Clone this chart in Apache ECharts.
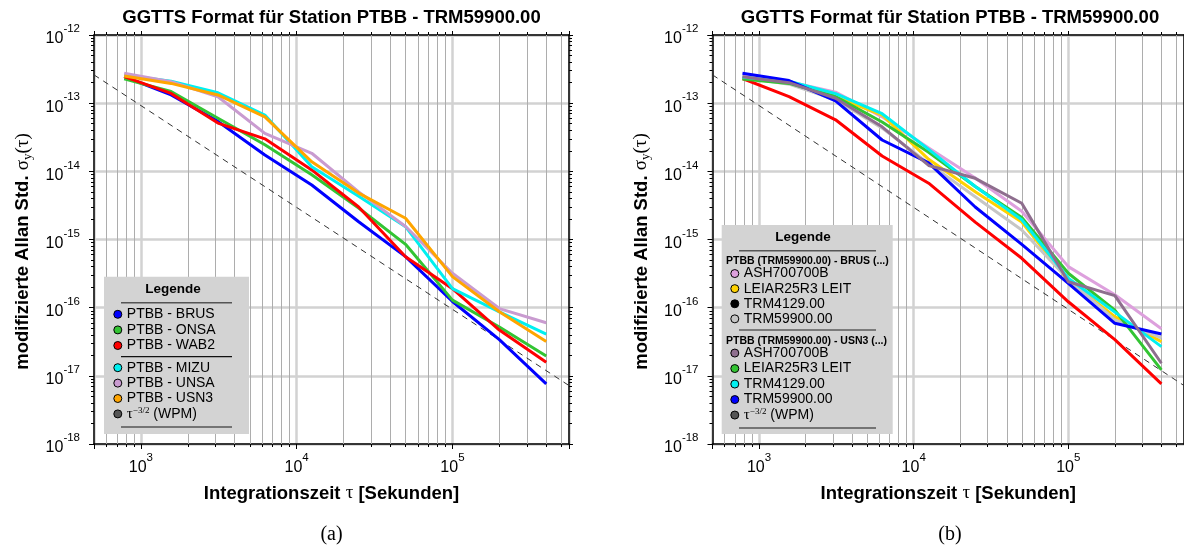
<!DOCTYPE html>
<html><head><meta charset="utf-8">
<script src="https://cdn.jsdelivr.net/npm/echarts@6/dist/echarts.min.js"></script>
<style>html,body{margin:0;padding:0;background:#fff}#c{width:1184px;height:550px}</style>
</head><body><div id="c"></div>
<script>
// ---------- data ----------
const tau = [781.25, 1562.5, 3125, 6250, 12500, 25000, 50000, 100000, 200000, 400000];

// panel (a)
const a_BRUS = [2.45e-13, 1.32e-13, 5.4e-14, 1.74e-14, 6.3e-15, 1.82e-15, 5.6e-16, 1.23e-16, 3.4e-17, 7.6e-18];
const a_ONSA = [2.27e-13, 1.48e-13, 6.0e-14, 2.45e-14, 8.9e-15, 2.9e-15, 8.5e-16, 1.29e-16, 5.2e-17, 1.95e-17];
const a_WAB2 = [2.45e-13, 1.39e-13, 5.1e-14, 3.0e-14, 1.05e-14, 3.0e-15, 5.6e-16, 1.9e-16, 4.7e-17, 1.58e-17];
const a_MIZU = [2.58e-13, 2.1e-13, 1.42e-13, 6.7e-14, 1.17e-14, 4.3e-15, 1.54e-15, 1.9e-16, 8.7e-17, 4.1e-17];
const a_UNSA = [2.75e-13, 2.07e-13, 1.24e-13, 3.6e-14, 1.84e-14, 5.0e-15, 1.55e-15, 3.2e-16, 9.7e-17, 6.0e-17];
const a_USN3 = [2.5e-13, 1.95e-13, 1.32e-13, 6.3e-14, 1.38e-14, 4.8e-15, 2.05e-15, 2.85e-16, 8.7e-17, 3.2e-17];

// panel (b)
const b_other = [2.3e-13, 1.25e-13, 5.7e-14, 1.68e-14, 6.7e-15, 1.8e-15, 5.3e-16, 1.22e-16, 3.4e-17, 7.6e-18];
const b_BRUS_ASH = [2.5e-13, 2.07e-13, 1.45e-13, 6.3e-14, 2.2e-14, 8.0e-15, 2.6e-15, 4.0e-16, 1.55e-16, 4.9e-17];
const b_BRUS_LEIAR = [2.3e-13, 2.07e-13, 1.24e-13, 6.7e-14, 1.5e-14, 5.0e-15, 1.8e-15, 2.5e-16, 7.4e-17, 3.17e-17];
const b_BRUS_TRM4129 = [];
const b_BRUS_TRM59900 = [2.4e-13, 1.9e-13, 1.12e-13, 4.3e-14, 1.3e-14, 4.25e-15, 1.38e-15, 2.6e-16, 6.6e-17, 3.6e-17];
const b_USN3_ASH = [2.45e-13, 2.0e-13, 1.18e-13, 4.5e-14, 1.22e-14, 7.9e-15, 3.4e-15, 2.4e-16, 1.5e-16, 1.53e-17];
const b_USN3_LEIAR = [2.27e-13, 1.95e-13, 1.25e-13, 5.3e-14, 1.9e-14, 6.0e-15, 2.1e-15, 3.2e-16, 9.2e-17, 1.22e-17];
const b_USN3_TRM4129 = [2.4e-13, 2.1e-13, 1.38e-13, 7.0e-14, 2.1e-14, 6.0e-15, 1.95e-15, 2.7e-16, 8.6e-17, 2.68e-17];
const b_USN3_TRM59900 = [2.74e-13, 2.15e-13, 1.08e-13, 2.88e-14, 1.33e-14, 3.0e-15, 8.5e-16, 2.27e-16, 5.9e-17, 4.1e-17];

// tau^-3/2 reference line (two read end points)
const wpmTau = [500, 560000];
const wpmSigma = [2.6e-13, 7.2e-18];

// axis ranges and grid tick values
const X_RANGE = [500, 560000];
const Y_RANGE = [1e-18, 1e-12];
const xDecades = [100, 1000, 10000, 100000];
const yDecades = [1e-18, 1e-17, 1e-16, 1e-15, 1e-14, 1e-13];
const minorSteps = [2, 3, 4, 5, 6, 7, 8, 9];

// ---------- helpers ----------
const FONT = 'Liberation Sans, Arial, Helvetica, sans-serif';
const SERIF = 'Liberation Serif, DejaVu Serif, serif';

const xMinor = [];
xDecades.forEach(d => minorSteps.forEach(m => { const v = d * m; if (v > X_RANGE[0] && v < X_RANGE[1]) xMinor.push(v); }));
const yMinor = [];
yDecades.forEach(d => minorSteps.forEach(m => yMinor.push(d * m)));
const minorLines = xMinor.map(v => ({xAxis: v})).concat(yMinor.map(v => ({yAxis: v})));

function powLabel(v) {
  const e = Math.round(Math.log10(v));
  if (Math.abs(v / Math.pow(10, e) - 1) > 1e-6) return '';
  return '{b|10}{s|' + e + '}';
}
const labelRich = {
  b: {fontFamily: FONT, fontSize: 16, color: '#000', lineHeight: 24, verticalAlign: 'bottom'},
  s: {fontFamily: FONT, fontSize: 11.5, color: '#000', lineHeight: 13, verticalAlign: 'top'}
};

function xMain(gi) {
  return {
    type: 'log', logBase: 10, gridIndex: gi, position: 'bottom', min: X_RANGE[0], max: X_RANGE[1],
    axisLine: {show: true, onZero: false, lineStyle: {color: '#000', width: 1.5}},
    axisTick: {show: true, inside: false, length: 5, lineStyle: {color: '#000', width: 1}},
    minorTick: {show: true, splitNumber: 9, length: 3, lineStyle: {color: '#000', width: 1}},
    splitLine: {show: true, lineStyle: {color: '#d2d2d2', width: 2.5}},
    axisLabel: {formatter: powLabel, rich: labelRich, margin: 8, showMinLabel: false, showMaxLabel: false},
    name: 'Integrationszeit {t|τ} [Sekunden]', nameLocation: 'middle', nameGap: 40,
    nameTextStyle: {fontFamily: FONT, fontWeight: 'bold', fontSize: 18.5, color: '#000',
      rich: {t: {fontFamily: SERIF, fontWeight: 'normal', fontSize: 19, color: '#000'}}}
  };
}
function xTop(gi) {
  return {
    type: 'log', logBase: 10, gridIndex: gi, position: 'top', min: X_RANGE[0], max: X_RANGE[1],
    axisLine: {show: true, onZero: false, lineStyle: {color: '#000', width: 1.5}},
    axisTick: {show: true, inside: false, length: 4, lineStyle: {color: '#000', width: 1}},
    minorTick: {show: true, splitNumber: 9, length: 3, lineStyle: {color: '#000', width: 1}},
    splitLine: {show: false}, axisLabel: {show: false}
  };
}
function yMain(gi) {
  return {
    type: 'log', logBase: 10, gridIndex: gi, position: 'left', min: Y_RANGE[0], max: Y_RANGE[1],
    axisLine: {show: true, onZero: false, lineStyle: {color: '#000', width: 1.5}},
    axisTick: {show: true, inside: false, length: 5, lineStyle: {color: '#000', width: 1}},
    minorTick: {show: true, splitNumber: 9, length: 3, lineStyle: {color: '#000', width: 1}},
    splitLine: {show: true, lineStyle: {color: '#d2d2d2', width: 2.5}},
    axisLabel: {formatter: powLabel, rich: labelRich, margin: 14},
    name: 'modifizierte Allan Std. {g|σ}{sub|y}{g|(τ)}', nameLocation: 'middle', nameGap: 60,
    nameTextStyle: {fontFamily: FONT, fontWeight: 'bold', fontSize: 18.5, color: '#000', lineHeight: 22,
      padding: [0, 24, 0, 0],
      rich: {
        g: {fontFamily: SERIF, fontWeight: 'normal', fontSize: 19, color: '#000', lineHeight: 22},
        sub: {fontFamily: SERIF, fontWeight: 'normal', fontSize: 13, color: '#000', lineHeight: 14, verticalAlign: 'bottom'}
      }}
  };
}
function yRight(gi) {
  return {
    type: 'log', logBase: 10, gridIndex: gi, position: 'right', min: Y_RANGE[0], max: Y_RANGE[1],
    axisLine: {show: true, onZero: false, lineStyle: {color: '#000', width: 1.5}},
    axisTick: {show: true, inside: false, length: 4, lineStyle: {color: '#000', width: 1}},
    minorTick: {show: true, splitNumber: 9, length: 3, lineStyle: {color: '#000', width: 1}},
    splitLine: {show: false}, axisLabel: {show: false}
  };
}

function pairs(values) { return values.map((v, i) => [tau[i], v]); }
function line(name, values, color, xi, yi, z) {
  return {
    type: 'line', name: name, xAxisIndex: xi, yAxisIndex: yi, data: pairs(values),
    symbol: 'none', showSymbol: false, z: z || 3, animation: false,
    lineStyle: {color: color, width: 3, join: 'round'}, itemStyle: {color: color},
    emphasis: {disabled: true}
  };
}
function wpm(name, xi, yi) {
  return {
    type: 'line', name: name, xAxisIndex: xi, yAxisIndex: yi, data: wpmTau.map((t, i) => [t, wpmSigma[i]]),
    symbol: 'none', showSymbol: false, z: 3, animation: false,
    lineStyle: {color: '#333', width: 1, type: [6, 5]}, itemStyle: {color: '#555'},
    emphasis: {disabled: true}
  };
}
function gridHelper(xi, yi) {
  return {
    type: 'line', name: '_grid' + xi, xAxisIndex: xi, yAxisIndex: yi, data: [], silent: true, z: 1,
    markLine: {silent: true, symbol: ['none', 'none'], label: {show: false}, z: 1, animation: false,
      lineStyle: {color: '#adadad', width: 1, type: 'solid'}, emphasis: {disabled: true}, data: minorLines}
  };
}

const displayNames = {
  'WPM_a': '{t|τ}{s|−3/2} (WPM)', 'WPM_b': '{t|τ}{s|−3/2} (WPM)',
  'BRUS_ASH': 'ASH700700B', 'BRUS_LEIAR': 'LEIAR25R3 LEIT', 'BRUS_TRM4129': 'TRM4129.00', 'BRUS_TRM59900': 'TRM59900.00',
  'USN3_ASH': 'ASH700700B', 'USN3_LEIAR': 'LEIAR25R3 LEIT', 'USN3_TRM4129': 'TRM4129.00', 'USN3_TRM59900': 'TRM59900.00'
};
function legendFmt(n) { return displayNames[n] || n; }
function legendBox(left, top, lh, data) {
  return {
    orient: 'vertical', left: left, top: top, padding: 0, itemGap: 0, itemWidth: 8, itemHeight: 8,
    icon: 'circle', z: 6, data: data, formatter: legendFmt,
    itemStyle: {borderColor: '#000', borderWidth: 1},
    textStyle: {fontFamily: FONT, fontSize: 14, color: '#000', lineHeight: lh,
      rich: {t: {fontFamily: SERIF, fontSize: 15, color: '#000', lineHeight: lh},
             s: {fontFamily: SERIF, fontSize: 9, color: '#000', lineHeight: 7, verticalAlign: 'top'}}}
  };
}

function gText(x, y, text, font, align) {
  return {type: 'text', x: x, y: y, z: 7, silent: true,
    style: {text: text, font: font, fill: '#000', align: align || 'center', verticalAlign: 'middle'}};
}
function gLine(x1, x2, y, color, w) {
  return {type: 'line', z: 7, silent: true, shape: {x1: x1, y1: y, x2: x2, y2: y},
    style: {stroke: color, lineWidth: w}};
}

const chart = echarts.init(document.getElementById('c'), null, {renderer: 'canvas'});
chart.setOption({
  backgroundColor: '#fff',
  animation: false,
  title: [
    {text: 'GGTTS Format für Station PTBB - TRM59900.00', left: 331.5, top: 8.5, textAlign: 'center', padding: 0,
      textStyle: {fontFamily: FONT, fontSize: 18.5, fontWeight: 'bold', color: '#000'}},
    {text: 'GGTTS Format für Station PTBB - TRM59900.00', left: 950, top: 8.5, textAlign: 'center', padding: 0,
      textStyle: {fontFamily: FONT, fontSize: 18.5, fontWeight: 'bold', color: '#000'}}
  ],
  grid: [
    {left: 94, top: 35, width: 475, height: 409, containLabel: false},
    {left: 712.5, top: 35, width: 475, height: 409, containLabel: false}
  ],
  xAxis: [xMain(0), xTop(0), xMain(1), xTop(1)],
  yAxis: [yMain(0), yRight(0), yMain(1), yRight(1)],
  legend: [
    legendBox(113.3, 306.5, 15.6, ['PTBB - BRUS', 'PTBB - ONSA', 'PTBB - WAB2']),
    legendBox(113.3, 360, 15.4, ['PTBB - MIZU', 'PTBB - UNSA', 'PTBB - USN3', 'WPM_a']),
    legendBox(730.3, 266, 15.1, ['BRUS_ASH', 'BRUS_LEIAR', 'BRUS_TRM4129', 'BRUS_TRM59900']),
    legendBox(730.3, 345.3, 15.5, ['USN3_ASH', 'USN3_LEIAR', 'USN3_TRM4129', 'USN3_TRM59900', 'WPM_b'])
  ],
  series: [
    gridHelper(0, 0),
    wpm('WPM_a', 0, 0),
    line('PTBB - BRUS', a_BRUS, '#0000ff', 0, 0),
    line('PTBB - ONSA', a_ONSA, '#33c433', 0, 0),
    line('PTBB - WAB2', a_WAB2, '#ff0000', 0, 0),
    line('PTBB - MIZU', a_MIZU, '#00f0f0', 0, 0),
    line('PTBB - UNSA', a_UNSA, '#c99bd0', 0, 0),
    line('PTBB - USN3', a_USN3, '#ffa500', 0, 0),

    gridHelper(2, 2),
    wpm('WPM_b', 2, 2),
    line('PTBB - other', b_other, '#ff0000', 2, 2),
    line('BRUS_ASH', b_BRUS_ASH, '#dda0dd', 2, 2),
    line('BRUS_LEIAR', b_BRUS_LEIAR, '#ffd200', 2, 2),
    line('BRUS_TRM4129', b_BRUS_TRM4129, '#000000', 2, 2),
    line('BRUS_TRM59900', b_BRUS_TRM59900, '#c6c6c6', 2, 2),
    line('USN3_LEIAR', b_USN3_LEIAR, '#33c433', 2, 2),
    line('USN3_TRM4129', b_USN3_TRM4129, '#00f0f0', 2, 2),
    line('USN3_TRM59900', b_USN3_TRM59900, '#0000ff', 2, 2),
    line('USN3_ASH', b_USN3_ASH, '#8e6e8e', 2, 2)
  ],
  graphic: [
    {type: 'rect', z: 5, silent: true, shape: {x: 104, y: 276.7, width: 145, height: 157.3}, style: {fill: '#d3d3d3'}},
    gText(173, 289, 'Legende', 'bold 13.5px ' + FONT),
    gLine(121, 232, 302.7, '#555', 1.5),
    gLine(121, 232, 356.7, '#111', 1.2),
    gLine(121, 232, 427, '#555', 1.5),

    {type: 'rect', z: 5, silent: true, shape: {x: 721.7, y: 225, width: 171, height: 209}, style: {fill: '#d3d3d3'}},
    gText(803, 237, 'Legende', 'bold 13.5px ' + FONT),
    gLine(739, 876, 250.7, '#555', 1.5),
    gText(726, 260.7, 'PTBB (TRM59900.00) - BRUS (...)', 'bold 10.5px ' + FONT, 'left'),
    gLine(739, 876, 330, '#222', 1.2),
    gText(726, 340.7, 'PTBB (TRM59900.00) - USN3 (...)', 'bold 10.5px ' + FONT, 'left'),
    gLine(739, 876, 428, '#555', 1.5),

    gText(331.5, 535, '(a)', '20px ' + SERIF),
    gText(950, 535, '(b)', '20px ' + SERIF)
  ]
});
</script>
</body></html>
